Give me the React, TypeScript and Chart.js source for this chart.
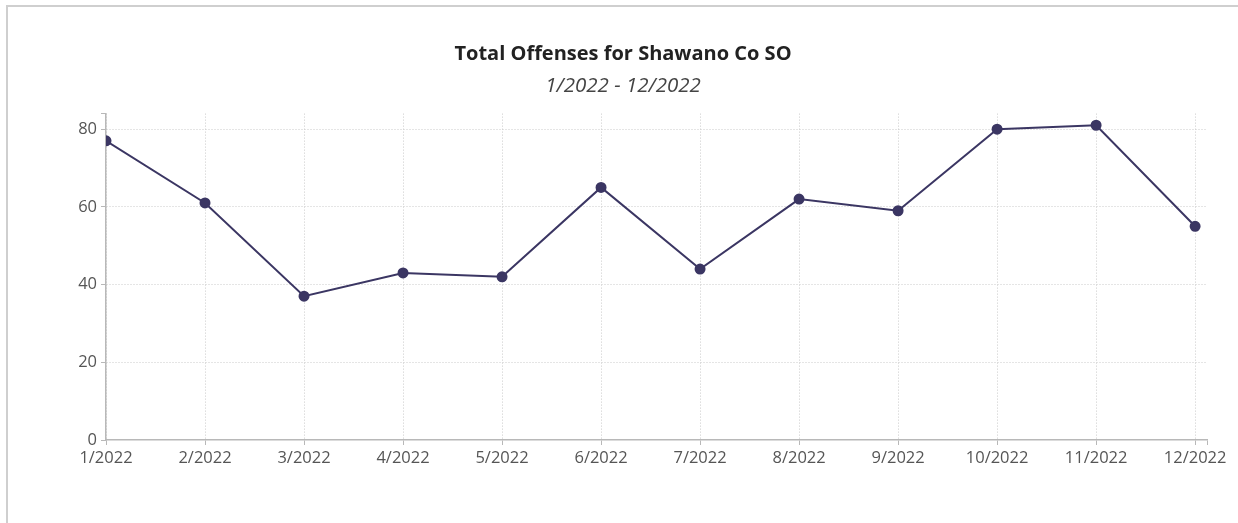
import React, { useEffect, useRef } from "react";
import { Chart, registerables } from "chart.js";

Chart.register(...registerables);

const months = ["1/2022", "2/2022", "3/2022", "4/2022", "5/2022", "6/2022", "7/2022", "8/2022", "9/2022", "10/2022", "11/2022", "12/2022"];
const offenses = [77, 61, 37, 43, 42, 65, 44, 62, 59, 80, 81, 55];
const yTicks = [0, 20, 40, 60, 80];
const titleText = "Total Offenses for Shawano Co SO";
const subtitleText = "1/2022 - 12/2022";

const FONT = "'Open Sans', 'Noto Sans', sans-serif";
const LINE = "#3b3663";
const GRID = "#cacaca";
const AXIS = "#b8b8b8";
const CLEAR = "rgba(0,0,0,0)";

export default function App() {
  const ref = useRef<HTMLCanvasElement | null>(null);

  useEffect(() => {
    if (!ref.current) return;
    const xMax = months.length - 1 + 0.12;
    const yMax = 84;
    const chart = new Chart(ref.current, {
      type: "line",
      data: {
        datasets: [
          {
            label: "Total Offenses",
            data: offenses.map((v, i) => ({ x: i, y: v })),
            borderColor: LINE,
            backgroundColor: LINE,
            borderWidth: 2,
            pointRadius: 4.5,
            pointBackgroundColor: LINE,
            pointBorderColor: LINE,
            tension: 0,
          },
        ],
      },
      options: {
        animation: false,
        responsive: false,
        maintainAspectRatio: false,
        layout: { padding: { left: 39, right: 31, top: 0, bottom: 43 } },
        plugins: {
          legend: { display: false },
          tooltip: { enabled: false },
          title: {
            display: true,
            text: titleText,
            color: "#222",
            font: { family: FONT, size: 20, weight: "bold" },
            padding: { top: 42, bottom: 3 },
          },
          subtitle: {
            display: true,
            text: subtitleText,
            color: "#444",
            font: { family: FONT, size: 20.5, style: "italic" },
            padding: { top: 5, bottom: 15 },
          },
        },
        scales: {
          x: {
            type: "linear",
            min: 0,
            max: xMax,
            afterFit: (s: any) => {
              s.height = 40;
            },
            afterBuildTicks: (s: any) => {
              s.ticks = [...months.map((_, i) => ({ value: i })), { value: xMax }];
            },
            ticks: {
              autoSkip: false,
              maxRotation: 0,
              padding: 3,
              color: "#555",
              font: { family: FONT, size: 16.5 },
              callback: (v: any) => (Number.isInteger(v) ? months[v] : ""),
            },
            grid: {
              color: (c: any) => (c.tick && Number.isInteger(c.tick.value) ? GRID : CLEAR),
              tickColor: AXIS,
              tickBorderDash: [],
              tickLength: 5,
              lineWidth: 1,
            },
            border: { display: true, color: AXIS, width: 1.5, dash: [1, 2] },
          },
          y: {
            min: 0,
            max: yMax,
            afterFit: (s: any) => {
              s.width = 67;
            },
            afterBuildTicks: (s: any) => {
              s.ticks = [...yTicks.map((v) => ({ value: v })), { value: yMax }];
            },
            ticks: {
              padding: 4,
              color: "#555",
              font: { family: FONT, size: 16.5 },
              callback: (v: any) => (yTicks.includes(v) ? String(v) : ""),
            },
            grid: {
              color: (c: any) => (c.tick && yTicks.includes(c.tick.value) && c.tick.value !== 0 ? GRID : CLEAR),
              tickColor: AXIS,
              tickBorderDash: [],
              tickLength: 5,
              lineWidth: 1,
            },
            border: { display: true, color: AXIS, width: 1.5, dash: [1, 2] },
          },
        },
      },
    });
    return () => chart.destroy();
  }, []);

  return (
    <>
      <div
        style={{
          position: "fixed",
          left: 6,
          top: 5,
          right: 0,
          bottom: 0,
          borderLeft: "2px solid #cfcfcf",
          borderTop: "2px solid #cfcfcf",
          pointerEvents: "none",
        }}
      />
      <canvas
        ref={ref}
        width={1238}
        height={523}
        style={{ position: "fixed", left: 0, top: 0, width: 1238, height: 523 }}
      />
    </>
  );
}
